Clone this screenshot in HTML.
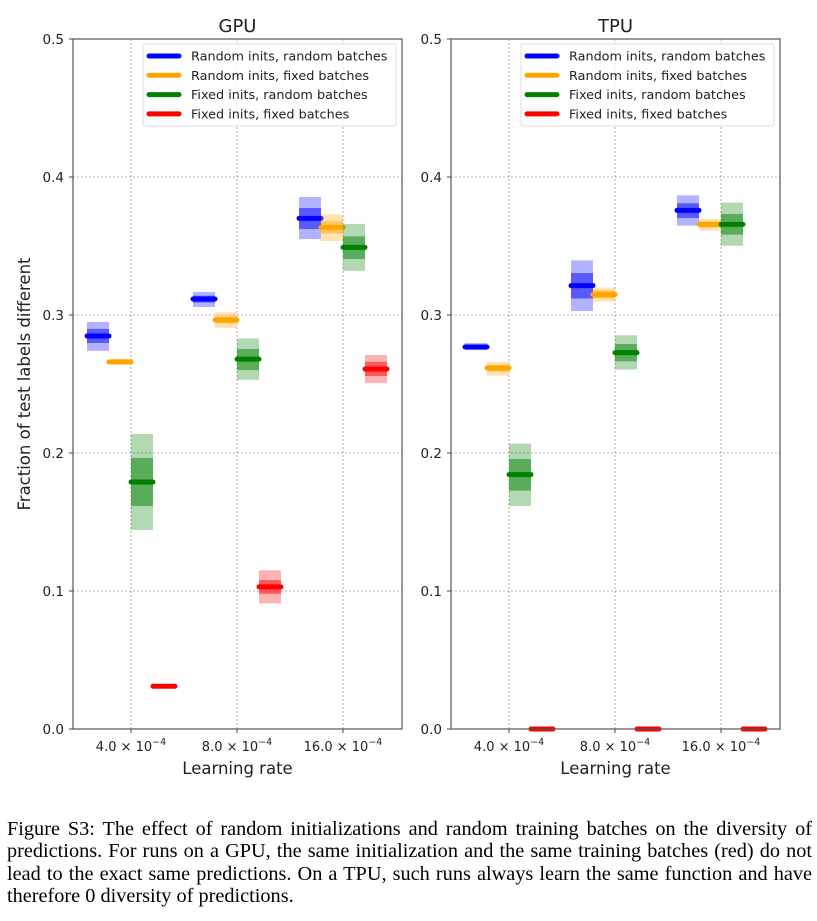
<!DOCTYPE html>
<html><head><meta charset="utf-8">
<style>
body{margin:0;background:#fff;width:817px;height:921px;overflow:hidden;position:relative}
svg{position:absolute;left:0;top:0}
.cap{position:absolute;left:7px;top:818px;width:805px;font-family:"Liberation Serif",serif;font-size:20.3px;line-height:22.3px;color:#000}
.cap span{display:block;text-align:justify;text-align-last:justify;white-space:nowrap}
.cap span.last{text-align-last:left}
</style></head><body>
<svg id="chart" width="817" height="800" font-family="DejaVu Sans, Liberation Sans, sans-serif"></svg>
<div class="cap"><span>Figure S3: The effect of random initializations and random training batches on the diversity of</span><span>predictions. For runs on a GPU, the same initialization and the same training batches (red) do not</span><span>lead to the exact same predictions. On a TPU, such runs always learn the same function and have</span><span class="last">therefore 0 diversity of predictions.</span></div>
<script>
const categories=["4.0","8.0","16.0"];
const seriesNames=["Random inits, random batches","Random inits, fixed batches","Fixed inits, random batches","Fixed inits, fixed batches"];
const yTicks=[0,0.1,0.2,0.3,0.4,0.5];
// GPU: per series, per category
const gpuMed=[[0.2848,0.3116,0.370],[0.266,0.2964,0.3635],[0.179,0.268,0.349],[0.031,0.103,0.2609]];
const gpuOutLo=[[0.274,0.3058,0.355],[0.264,0.2906,0.3536],[0.1442,0.253,0.332],[0.030,0.091,0.2507]];
const gpuOutHi=[[0.295,0.3167,0.3855],[0.268,0.302,0.373],[0.2138,0.283,0.366],[0.032,0.115,0.271]];
const gpuInLo=[[0.2797,0.309,0.3623],[0.265,0.294,0.359],[0.1616,0.2601,0.3406],[0.0305,0.098,0.2558]];
const gpuInHi=[[0.2899,0.314,0.3775],[0.267,0.299,0.368],[0.1964,0.2754,0.357],[0.0315,0.108,0.266]];
const tpuMed=[[0.2768,0.3213,0.3758],[0.2616,0.3148,0.3657],[0.1843,0.2727,0.3657],[0,0,0]];
const tpuOutLo=[[0.2746,0.3029,0.3648],[0.256,0.3096,0.3612],[0.1616,0.2604,0.3502],[0,0,0]];
const tpuOutHi=[[0.2797,0.3396,0.3867],[0.266,0.32,0.3696],[0.2068,0.2853,0.3814],[0,0,0]];
const tpuInLo=[[0.2757,0.312,0.3703],[0.259,0.312,0.3635],[0.1727,0.2664,0.3582],[0,0,0]];
const tpuInHi=[[0.2785,0.3304,0.381],[0.264,0.318,0.3678],[0.1957,0.279,0.3732],[0,0,0]];
const colors=["#0000ff","#ffa500","#008000","#ff0000"];
const NS="http://www.w3.org/2000/svg";
const svg=document.getElementById('chart');
function el(t,a,p){const e=document.createElementNS(NS,t);for(const k in a)e.setAttribute(k,a[k]);(p||svg).appendChild(e);return e;}
function panel(name,x0,med,olo,ohi,ilo,ihi,showY){
  const x1=x0+329,yT=39,yB=729;
  const ys=v=>yB-(v/0.5)*(yB-yT);
  const xs=i=>x0+58+i*106;
  const g=el('g',{});
  
  
  yTicks.forEach(v=>{
    const gl=el('line',{x1:x0,x2:x1,y1:ys(v),y2:ys(v),stroke:'#999','stroke-width':0.8,'stroke-dasharray':'2,2'},g);
    
    el('line',{x1:x0-4,x2:x0,y1:ys(v),y2:ys(v),stroke:'#444','stroke-width':1},g);
    const t=el('text',{x:x0-9,y:ys(v)+5,'text-anchor':'end','font-size':13.5,fill:'#222'},g);
    t.textContent=v.toFixed(1);
    
  });
  categories.forEach((c,i)=>{
    const gl=el('line',{x1:xs(i),x2:xs(i),y1:yT,y2:yB,stroke:'#999','stroke-width':0.8,'stroke-dasharray':'2,2'},g);
    
    el('line',{x1:xs(i),x2:xs(i),y1:yB,y2:yB+4,stroke:'#444','stroke-width':1},g);
    const t=el('text',{x:xs(i),y:yB+22,'text-anchor':'middle','font-size':13,fill:'#222'},g);
    t.innerHTML=c+' \u00d7 10<tspan dy="-6" font-size="9.5">\u22124</tspan>';
    
  });
  for(let s=0;s<4;s++)for(let i=0;i<3;i++){
    const cx=xs(i)+(s-1.5)*22;
    const o=el('rect',{x:cx-11,y:ys(ohi[s][i]),width:22,height:Math.max(0,ys(olo[s][i])-ys(ohi[s][i])),fill:colors[s],'fill-opacity':0.3},g);
    
    const r=el('rect',{x:cx-11,y:ys(ihi[s][i]),width:22,height:Math.max(0,ys(ilo[s][i])-ys(ihi[s][i])),fill:colors[s],'fill-opacity':0.5},g);
    
    const m=el('line',{x1:cx-11,x2:cx+11,y1:ys(med[s][i]),y2:ys(med[s][i]),stroke:colors[s],'stroke-width':5,'stroke-linecap':'round'},g);
    
  }
  const fr=el('rect',{x:x0,y:yT,width:329,height:yB-yT,fill:'none',stroke:'#555','stroke-width':1.2},g);
  
  const tt=el('text',{x:x0+164.5,y:32,'text-anchor':'middle','font-size':18,fill:'#222'},g);
  tt.textContent=name;
  const xl=el('text',{x:x0+164.5,y:774,'text-anchor':'middle','font-size':16.5,fill:'#222'},g);
  xl.textContent='Learning rate';
  if(showY){
    const yl=el('text',{x:0,y:0,transform:'translate(30,384) rotate(-90)','text-anchor':'middle','font-size':16.5,fill:'#222'},g);
    yl.textContent='Fraction of test labels different';
  }
  const lg=el('g',{},g);
  
  const lx=x0+70;
  el('rect',{x:lx,y:44,width:253,height:82,fill:'#fff','fill-opacity':0.8,stroke:'#ddd','stroke-width':1,rx:2},lg);
  seriesNames.forEach((n,s)=>{
    const y=56+s*19.3;
    el('line',{x1:lx+6,x2:lx+36,y1:y,y2:y,stroke:colors[s],'stroke-width':5,'stroke-linecap':'round'},lg);
    const t=el('text',{x:lx+48,y:y+4.5,'font-size':12.8,fill:'#222'},lg);
    t.textContent=n;
  });
}
panel('GPU',73,gpuMed,gpuOutLo,gpuOutHi,gpuInLo,gpuInHi,true);
panel('TPU',451,tpuMed,tpuOutLo,tpuOutHi,tpuInLo,tpuInHi,false);
</script>
</body></html>
